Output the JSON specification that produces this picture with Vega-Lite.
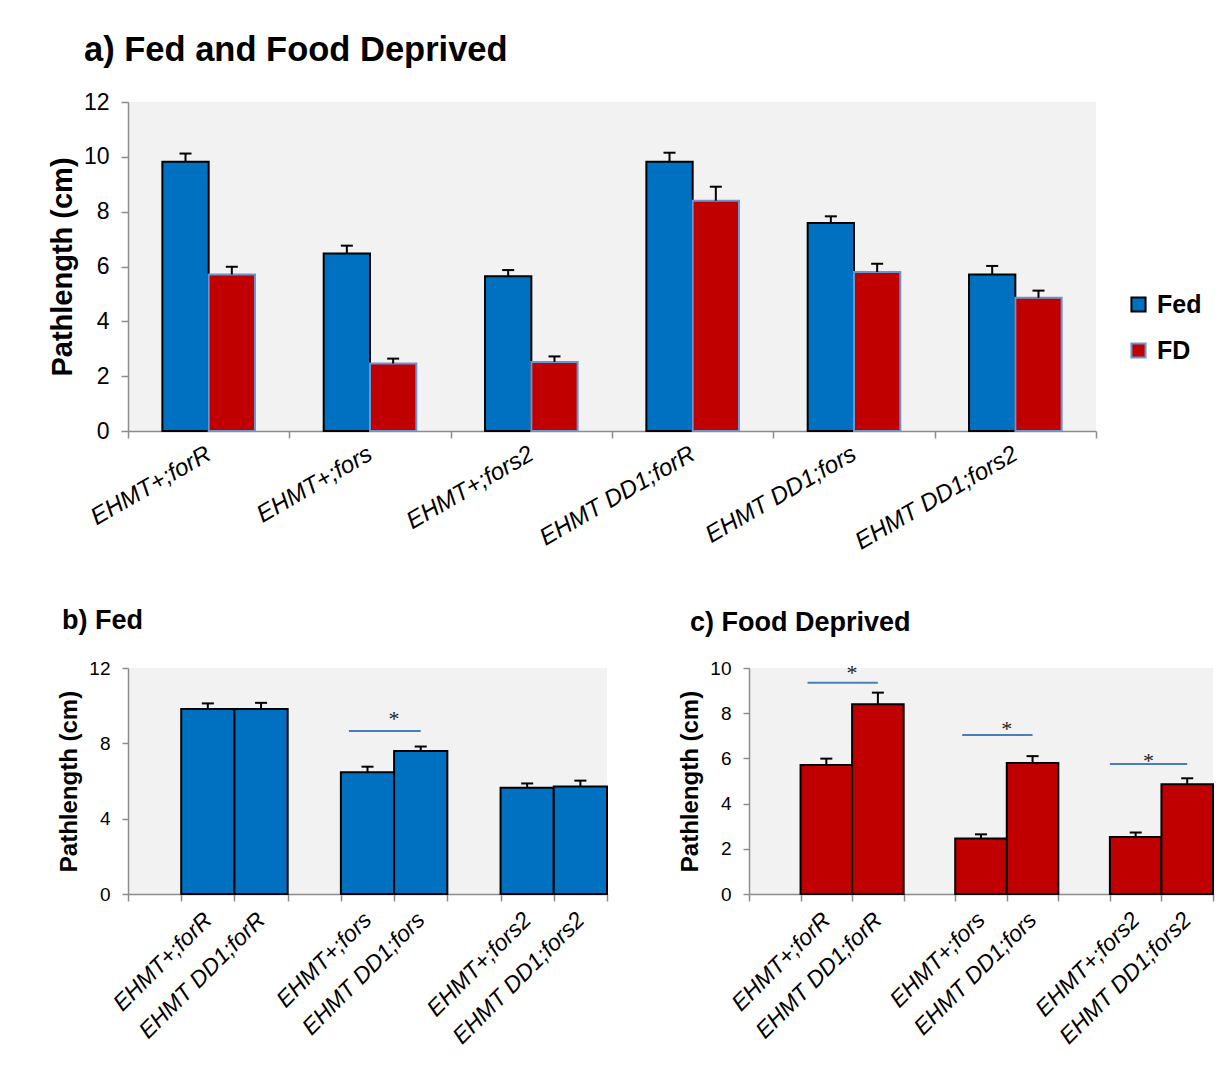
{
  "$schema": "https://vega.github.io/schema/vega-lite/v6.json",
  "background": "white",
  "padding": {"left": 48, "top": 32, "right": 5, "bottom": 5},
  "config": {
    "font": "Liberation Sans",
    "view": {"stroke": null, "fill": "#f2f2f2"},
    "axis": {
      "grid": false,
      "domainColor": "#8c8c8c",
      "tickColor": "#8c8c8c",
      "domainWidth": 1.5,
      "tickWidth": 1.5,
      "labelColor": "black",
      "titleColor": "black",
      "labelFont": "Liberation Sans",
      "titleFont": "Liberation Sans",
      "titleFontWeight": "bold",
      "labelLimit": 0,
      "labelOverlap": false,
      "labelFlush": false
    },
    "title": {"font": "Liberation Sans", "fontWeight": "bold", "color": "black", "anchor": "start", "frame": "group"}
  },
  "datasets": {
    "main": [
      {"genotype": "EHMT+;forR", "condition": "Fed", "value": 9.82, "upper": 10.12},
      {"genotype": "EHMT+;forR", "condition": "FD", "value": 5.71, "upper": 5.99},
      {"genotype": "EHMT+;fors", "condition": "Fed", "value": 6.47, "upper": 6.76},
      {"genotype": "EHMT+;fors", "condition": "FD", "value": 2.46, "upper": 2.64},
      {"genotype": "EHMT+;fors2", "condition": "Fed", "value": 5.64, "upper": 5.87},
      {"genotype": "EHMT+;fors2", "condition": "FD", "value": 2.52, "upper": 2.72},
      {"genotype": "EHMT DD1;forR", "condition": "Fed", "value": 9.82, "upper": 10.15},
      {"genotype": "EHMT DD1;forR", "condition": "FD", "value": 8.4, "upper": 8.91},
      {"genotype": "EHMT DD1;fors", "condition": "Fed", "value": 7.59, "upper": 7.83},
      {"genotype": "EHMT DD1;fors", "condition": "FD", "value": 5.8, "upper": 6.1},
      {"genotype": "EHMT DD1;fors2", "condition": "Fed", "value": 5.71, "upper": 6.02},
      {"genotype": "EHMT DD1;fors2", "condition": "FD", "value": 4.86, "upper": 5.12}
    ],
    "sig_b": [
      {"from": "EHMT+;fors", "to": "EHMT DD1;fors", "y": 8.65, "ystar": 9.56}
    ],
    "sig_c": [
      {"from": "EHMT+;forR", "to": "EHMT DD1;forR", "y": 9.35, "ystar": 10.0, "grp": "a"},
      {"from": "EHMT+;fors", "to": "EHMT DD1;fors", "y": 7.04, "ystar": 7.52, "grp": "a"},
      {"from": "EHMT+;fors2", "to": "EHMT DD1;fors2", "y": 5.75, "ystar": 6.12, "grp": "b"}
    ]
  },
  "spacing": 53,
  "resolve": {"scale": {"fill": "independent", "stroke": "independent"}, "legend": {"fill": "independent", "stroke": "independent"}},
  "vconcat": [
    {
      "width": 968,
      "height": 329,
      "title": {"text": "a) Fed and Food Deprived", "fontSize": 34.5, "dx": -44, "offset": 23},
      "data": {"name": "main"},
      "encoding": {
        "x": {
          "field": "genotype", "type": "nominal",
          "sort": ["EHMT+;forR", "EHMT+;fors", "EHMT+;fors2", "EHMT DD1;forR", "EHMT DD1;fors", "EHMT DD1;fors2"],
          "scale": {"paddingInner": 0, "paddingOuter": 0},
          "axis": {"title": null, "tickBand": "extent", "tickSize": 7, "labelAngle": -30, "labelAlign": "right", "labelBaseline": "middle", "labelPadding": 14, "labelFontSize": 24, "labelFontStyle": "italic"}
        },
        "xOffset": {"field": "condition", "type": "nominal", "sort": ["Fed", "FD"], "scale": {"paddingInner": 0, "paddingOuter": 0.742}}
      },
      "layer": [
        {
          "mark": {"type": "bar", "strokeWidth": 2},
          "encoding": {
            "y": {"field": "value", "type": "quantitative", "scale": {"domain": [0, 12]},
              "axis": {"title": "Pathlength (cm)", "values": [0, 2, 4, 6, 8, 10, 12], "tickSize": 7, "labelPadding": 12, "labelFontSize": 23, "titleFontSize": 29, "titlePadding": 6}},
            "fill": {"field": "condition", "type": "nominal", "scale": {"domain": ["Fed", "FD"], "range": ["#0070c0", "#c00000"]},
              "legend": {"title": "legend", "titleOpacity": 0, "titleFontSize": 10, "titlePadding": 180, "orient": "right", "offset": 30, "symbolType": "square", "symbolSize": 200, "symbolStrokeWidth": 2, "labelFontSize": 25, "labelFontWeight": "bold", "labelColor": "black", "rowPadding": 20, "labelOffset": 6}},
            "stroke": {"field": "condition", "type": "nominal", "scale": {"domain": ["Fed", "FD"], "range": ["#000000", "#6a96cf"]}, "legend": null}
          }
        },
        {
          "mark": {"type": "rule", "color": "black", "strokeWidth": 2},
          "encoding": {"y": {"field": "value", "type": "quantitative"}, "y2": {"field": "upper"}}
        },
        {
          "mark": {"type": "point", "shape": "M-1,0L1,0", "size": 144, "filled": false, "stroke": "black", "strokeWidth": 2, "opacity": 1},
          "encoding": {"y": {"field": "upper", "type": "quantitative"}}
        }
      ]
    },
    {
      "hconcat": [
        {
          "width": 479,
          "height": 226,
          "title": {"text": "b) Fed", "fontSize": 27, "dx": -66, "offset": 24},
          "layer": [
            {
              "data": {"name": "main"},
              "transform": [{"filter": "datum.condition === 'Fed'"}],
              "mark": {"type": "bar", "fill": "#0070c0", "stroke": "black", "strokeWidth": 2},
              "encoding": {
                "x": {"field": "genotype", "type": "nominal",
                  "scale": {"domain": [" ", "EHMT+;forR", "EHMT DD1;forR", "  ", "EHMT+;fors", "EHMT DD1;fors", "   ", "EHMT+;fors2", "EHMT DD1;fors2"], "paddingInner": 0, "paddingOuter": 0},
                  "axis": {"title": null, "tickBand": "extent", "tickSize": 7, "labelAngle": -45, "labelAlign": "right", "labelBaseline": "middle", "labelPadding": 15, "labelFontSize": 23, "labelFontStyle": "italic"}},
                "y": {"field": "value", "type": "quantitative", "scale": {"domain": [0, 12]},
                  "axis": {"title": "Pathlength (cm)", "values": [0, 2, 4, 6, 8, 10, 12], "tickSize": 6, "labelPadding": 12, "labelFontSize": 19, "titleFontSize": 24, "titlePadding": 7}}
              }
            },
            {
              "data": {"name": "main"},
              "transform": [{"filter": "datum.condition === 'Fed'"}],
              "mark": {"type": "rule", "color": "black", "strokeWidth": 2},
              "encoding": {"x": {"field": "genotype", "type": "nominal"}, "y": {"field": "value", "type": "quantitative"}, "y2": {"field": "upper"}}
            },
            {
              "data": {"name": "main"},
              "transform": [{"filter": "datum.condition === 'Fed'"}],
              "mark": {"type": "point", "shape": "M-1,0L1,0", "size": 144, "filled": false, "stroke": "black", "strokeWidth": 2, "opacity": 1},
              "encoding": {"x": {"field": "genotype", "type": "nominal"}, "y": {"field": "upper", "type": "quantitative"}}
            },
            {
              "data": {"name": "sig_b"},
              "mark": {"type": "rule", "color": "#4a7ebb", "strokeWidth": 2},
              "encoding": {"x": {"field": "from", "type": "nominal", "bandPosition": 0.15}, "x2": {"field": "to"}, "y": {"field": "y", "type": "quantitative"}}
            },
            {
              "data": {"name": "sig_b"},
              "mark": {"type": "text", "text": "*", "font": "Liberation Serif", "fontSize": 22, "baseline": "alphabetic", "dy": 12, "color": "#222222"},
              "encoding": {"x": {"field": "from", "type": "nominal", "bandPosition": 1}, "y": {"field": "ystar", "type": "quantitative"}}
            }
          ]
        },
        {
          "width": 464,
          "height": 226,
          "title": {"text": "c) Food Deprived", "fontSize": 27, "dx": -59, "offset": 22},
          "layer": [
            {
              "data": {"name": "main"},
              "transform": [{"filter": "datum.condition === 'FD'"}],
              "mark": {"type": "bar", "fill": "#c00000", "stroke": "black", "strokeWidth": 2},
              "encoding": {
                "x": {"field": "genotype", "type": "nominal",
                  "scale": {"domain": [" ", "EHMT+;forR", "EHMT DD1;forR", "  ", "EHMT+;fors", "EHMT DD1;fors", "   ", "EHMT+;fors2", "EHMT DD1;fors2"], "paddingInner": 0, "paddingOuter": 0},
                  "axis": {"title": null, "tickBand": "extent", "tickSize": 7, "labelAngle": -45, "labelAlign": "right", "labelBaseline": "middle", "labelPadding": 15, "labelFontSize": 23, "labelFontStyle": "italic"}},
                "y": {"field": "value", "type": "quantitative", "scale": {"domain": [0, 10]},
                  "axis": {"title": "Pathlength (cm)", "values": [0, 1, 2, 3, 4, 5, 6, 7, 8, 9, 10], "tickSize": 6, "labelPadding": 12, "labelFontSize": 19, "titleFontSize": 24, "titlePadding": 7}}
              }
            },
            {
              "data": {"name": "main"},
              "transform": [{"filter": "datum.condition === 'FD'"}],
              "mark": {"type": "rule", "color": "black", "strokeWidth": 2},
              "encoding": {"x": {"field": "genotype", "type": "nominal"}, "y": {"field": "value", "type": "quantitative"}, "y2": {"field": "upper"}}
            },
            {
              "data": {"name": "main"},
              "transform": [{"filter": "datum.condition === 'FD'"}],
              "mark": {"type": "point", "shape": "M-1,0L1,0", "size": 144, "filled": false, "stroke": "black", "strokeWidth": 2, "opacity": 1},
              "encoding": {"x": {"field": "genotype", "type": "nominal"}, "y": {"field": "upper", "type": "quantitative"}}
            },
            {
              "data": {"name": "sig_c"},
              "transform": [{"filter": "datum.grp === 'a'"}],
              "mark": {"type": "rule", "color": "#4a7ebb", "strokeWidth": 2},
              "encoding": {"x": {"field": "from", "type": "nominal", "bandPosition": 0.135}, "x2": {"field": "to"}, "y": {"field": "y", "type": "quantitative"}}
            },
            {
              "data": {"name": "sig_c"},
              "transform": [{"filter": "datum.grp === 'b'"}],
              "mark": {"type": "rule", "color": "#4a7ebb", "strokeWidth": 2},
              "encoding": {"x": {"field": "from", "type": "nominal", "bandPosition": 0}, "x2": {"field": "to"}, "y": {"field": "y", "type": "quantitative"}}
            },
            {
              "data": {"name": "sig_c"},
              "transform": [{"filter": "datum.grp === 'a'"}],
              "mark": {"type": "text", "text": "*", "font": "Liberation Serif", "fontSize": 22, "baseline": "alphabetic", "dy": 12, "color": "#222222"},
              "encoding": {"x": {"field": "from", "type": "nominal", "bandPosition": 1}, "y": {"field": "ystar", "type": "quantitative"}}
            },
            {
              "data": {"name": "sig_c"},
              "transform": [{"filter": "datum.grp === 'b'"}],
              "mark": {"type": "text", "text": "*", "font": "Liberation Serif", "fontSize": 22, "baseline": "alphabetic", "dy": 12, "color": "#222222"},
              "encoding": {"x": {"field": "from", "type": "nominal", "bandPosition": 0.75}, "y": {"field": "ystar", "type": "quantitative"}}
            }
          ]
        }
      ],
      "spacing": 70
    }
  ]
}
